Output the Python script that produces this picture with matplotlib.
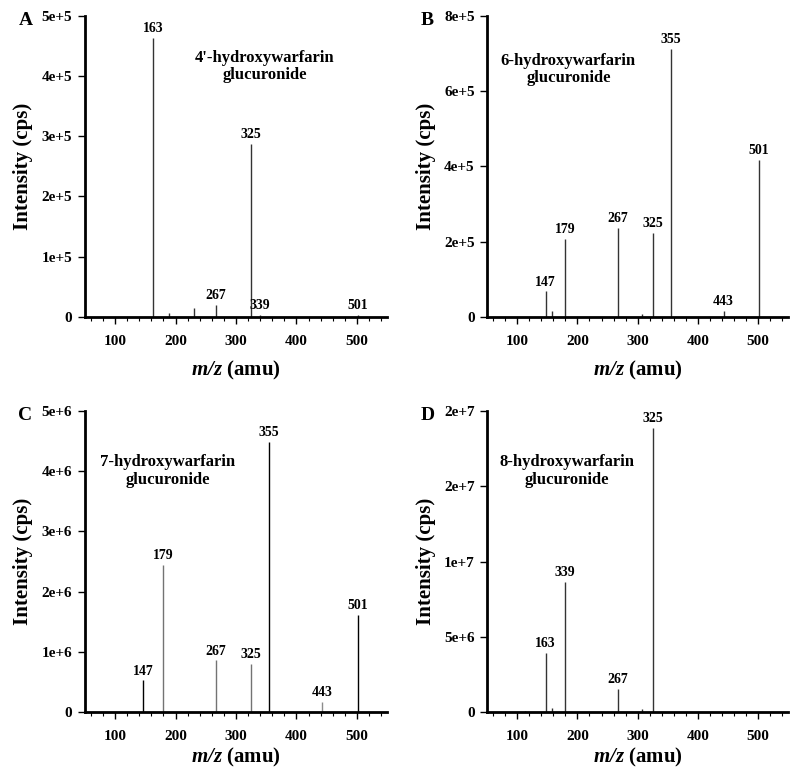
import matplotlib
matplotlib.use("Agg")
import matplotlib.pyplot as plt
from matplotlib.ticker import MultipleLocator, FuncFormatter

plt.rcParams["font.family"] = ["Liberation Serif", "DejaVu Serif"]
plt.rcParams["font.weight"] = "bold"
plt.rcParams["mathtext.fontset"] = "custom"
plt.rcParams["mathtext.rm"] = "Liberation Serif:bold"
plt.rcParams["mathtext.it"] = "Liberation Serif:italic:bold"
plt.rcParams["mathtext.bf"] = "Liberation Serif:bold"
plt.rcParams["mathtext.bfit"] = "Liberation Serif:italic:bold"

# Spectra: m/z positions and intensities (cps)
mz_a = [163, 189, 231, 267, 325, 339, 501]
int_a = [4.63e5, 7e3, 1.5e4, 2.0e4, 2.87e5, 3e3, 3e3]
lab_a = [("163", 163), ("325", 325), ("267", 267), ("339", 339), ("501", 501)]

mz_b = [147, 158, 179, 267, 308, 325, 355, 443, 501]
int_b = [6.8e4, 1.6e4, 2.07e5, 2.37e5, 8e3, 2.23e5, 7.12e5, 1.6e4, 4.17e5]
lab_b = [("147", 147), ("179", 179), ("267", 267), ("325", 325),
         ("355", 355), ("443", 443), ("501", 501)]

mz_c = [147, 179, 267, 325, 355, 443, 501]
int_c = [0.53e6, 2.44e6, 0.86e6, 0.80e6, 4.49e6, 0.17e6, 1.62e6]
col_c = ["black", "0.45", "0.45", "0.45", "black", "0.55", "black"]
lab_c = [("147", 147), ("179", 179), ("267", 267), ("325", 325),
         ("355", 355), ("443", 443), ("501", 501)]

mz_d = [113, 147, 158, 179, 267, 308, 325]
int_d = [1e5, 3.93e6, 2.7e5, 8.67e6, 1.53e6, 2e5, 1.887e7]
# labels as printed in the original (placed over the 147 / 179 peaks)
lab_d = [("163", 147), ("339", 179), ("267", 267), ("325", 325)]

panels = [
    ("A", mz_a, int_a, None, lab_a, 5e5, 1e5,
     "4'-hydroxywarfarin\nglucuronide", (347, 4.15e5)),
    ("B", mz_b, int_b, None, lab_b, 8e5, 2e5,
     "6-hydroxywarfarin\nglucuronide", (185, 6.56e5)),
    ("C", mz_c, int_c, col_c, lab_c, 5e6, 1e6,
     "7-hydroxywarfarin\nglucuronide", (187, 4.0e6)),
    ("D", mz_d, int_d, None, lab_d, 2e7, 5e6,
     "8-hydroxywarfarin\nglucuronide", (183, 1.6e7)),
]

axes_pos = [
    [0.106, 0.594, 0.378, 0.386],
    [0.609, 0.594, 0.376, 0.386],
    [0.106, 0.088, 0.378, 0.386],
    [0.609, 0.088, 0.376, 0.386],
]
xlabel_pad = [8, 8, 2, 2]


def sci_fmt(v, pos):
    if v == 0:
        return "0"
    s = "%.0e" % v
    mant, ex = s.split("e")
    return "%se+%d" % (mant, int(ex))


fig = plt.figure(figsize=(8.0, 7.81), dpi=100)

for pos, lpad, (letter, mz, inten, cols, labels, ymax, ystep, title, tpos) in zip(
        axes_pos, xlabel_pad, panels):
    ax = fig.add_axes(pos)
    if cols is None:
        cols = ["0.2"] * len(mz)
    ax.vlines(mz, 0, inten, colors=cols, linewidth=1.0)

    peak = dict(zip(mz, inten))
    for txt, x in labels:
        ax.annotate(txt, (x, peak[x]), xytext=(0, 2), textcoords="offset points",
                    ha="center", va="bottom", fontsize=10, fontweight="bold")

    ax.text(tpos[0], tpos[1], title, ha="center", va="center",
            fontsize=12, fontweight="bold", linespacing=1.1)

    ax.set_xlim(50, 550)
    ax.set_ylim(0, ymax)
    ax.xaxis.set_major_locator(MultipleLocator(100))
    ax.xaxis.set_minor_locator(MultipleLocator(20))
    ax.yaxis.set_major_locator(MultipleLocator(ystep))
    ax.yaxis.set_major_formatter(FuncFormatter(sci_fmt))

    for side in ["top", "right"]:
        ax.spines[side].set_visible(False)
    ax.spines["left"].set_linewidth(2)
    ax.spines["bottom"].set_linewidth(2)

    ax.tick_params(axis="both", which="major", direction="out", length=5,
                   width=1, labelsize=11, pad=4)
    ax.tick_params(axis="x", which="minor", direction="out", length=3, width=0.8)
    ax.tick_params(axis="x", which="major", pad=8)
    for lbl in ax.get_xticklabels() + ax.get_yticklabels():
        lbl.set_fontweight("bold")

    ax.set_xlabel(r"$\mathbfit{m/z}$ (amu)", fontsize=15, fontweight="bold", labelpad=lpad)
    ax.set_ylabel("Intensity (cps)", fontsize=15, fontweight="bold", labelpad=6)

    fig.text(pos[0] - 0.083, pos[1] + pos[3] - 0.006, letter, fontsize=14,
             fontweight="bold", ha="left", va="center")

fig.savefig("out.png", dpi=100)
